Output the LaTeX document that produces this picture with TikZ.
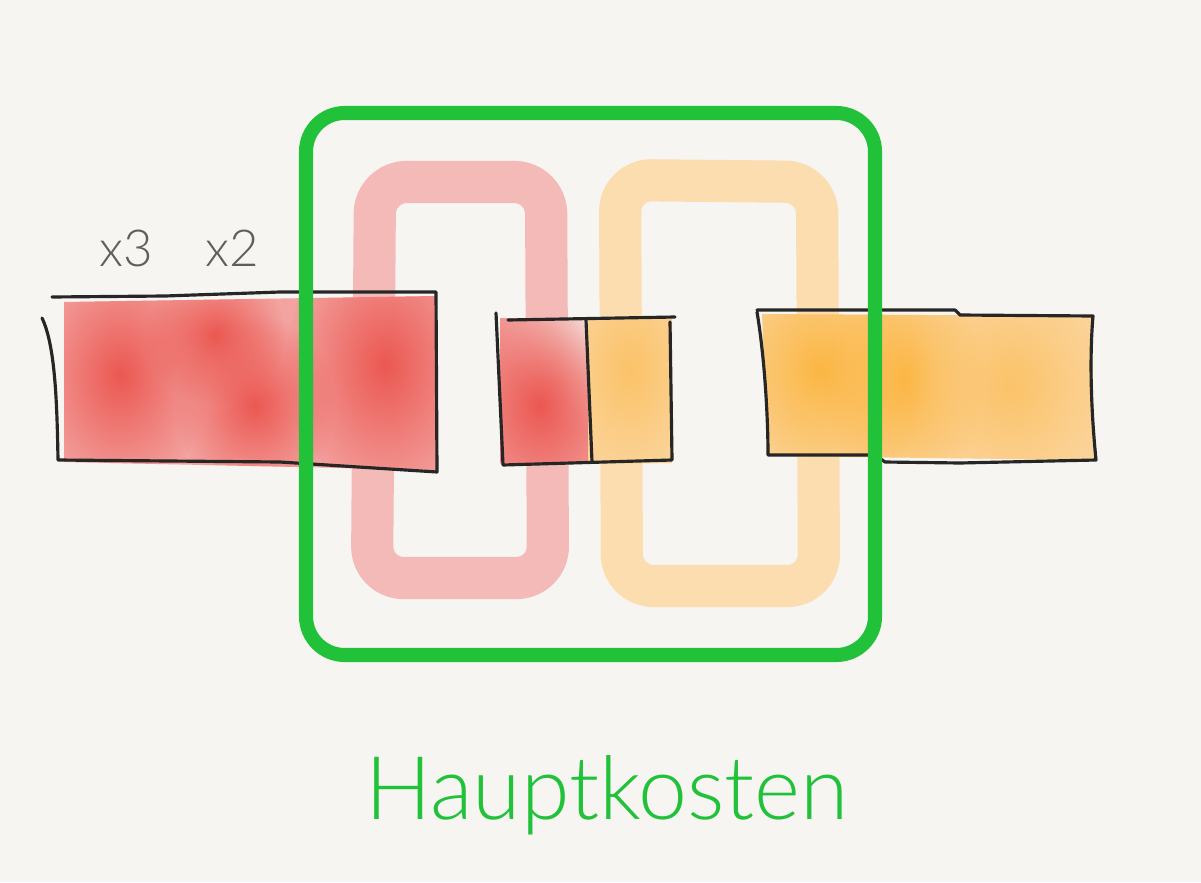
\documentclass[tikz,border=0pt]{standalone}
\usepackage{fontspec}
\setmainfont{Lato}[UprightFont={* Light}]
\usetikzlibrary{fadings}
\definecolor{papier}{HTML}{F6F5F1}
\definecolor{rotHell}{HTML}{F3A3A0}
\definecolor{rotTief}{HTML}{EC5852}
\definecolor{orangeHell}{HTML}{FCD6A0}
\definecolor{orangeTief}{HTML}{FBB744}
\definecolor{schleifeRot}{HTML}{F4BAB8}
\definecolor{schleifeOrange}{HTML}{FCDDB0}
\definecolor{kostenGruen}{HTML}{22C13A}
\definecolor{grauSchrift}{HTML}{5E5E5E}
\tikzfading[name=klecksrand, inner color=transparent!0, outer color=transparent!100]
\tikzset{
  skizze/.style={line width=0.9pt, line cap=round, line join=round, draw=black!85},
  schleife/.style={line width=12pt, rounded corners=9pt, line cap=round},
  rahmen/.style={line width=4pt, draw=kostenGruen, rounded corners=11pt},
  faktor/.style={text=grauSchrift, font=\fontsize{14.5}{14.5}\selectfont},
  klecks/.style={fill=#1, path fading=klecksrand}
}
\begin{document}
\begin{tikzpicture}[x=0.01cm, y=-0.01cm]
    % Hintergrund
    \fill[papier] (0,0) rectangle (1201,882);
    \useasboundingbox (0,0) rectangle (1201,882);

    % Schleifen hinter den Kästen
    \draw[schleife, draw=schleifeRot] (375,182) -- (546,182) -- (548,578) -- (372,578) -- cycle;
    \draw[schleife, draw=schleifeOrange] (620,180) -- (817,182) -- (819,586) -- (622,586) -- cycle;

    % linker Block, rot
    \begin{scope}
        \clip (64,302) -- (436,296) -- (436,470) -- (64,462) -- cycle;
        \fill[rotHell] (60,290) rectangle (440,475);
        \fill[klecks=rotTief] (120,375) ellipse [x radius=90, y radius=120];
        \fill[klecks=rotTief] (215,335) ellipse [x radius=70, y radius=70];
        \fill[klecks=rotTief] (255,405) ellipse [x radius=80, y radius=90];
        \fill[klecks=rotTief] (385,365) ellipse [x radius=100, y radius=140];
    \end{scope}
    \draw[skizze] (42,318) .. controls (55,345) and (57,400) .. (58,460) -- (280,462) -- (437,472) -- (436,292) -- (280,292) -- (165,296) -- (52,297);

    % mittlerer Block, halb rot, halb orange
    \begin{scope}
        \clip (500,318) rectangle (588,463);
        \fill[rotHell] (500,318) rectangle (588,463);
        \fill[klecks=papier] (590,320) ellipse [x radius=90, y radius=110];
        \fill[klecks=rotTief] (540,405) ellipse [x radius=90, y radius=120];
    \end{scope}
    \begin{scope}
        \clip (588,318) rectangle (672,463);
        \fill[orangeHell] (588,318) rectangle (672,463);
        \fill[klecks=orangeTief!60!orangeHell] (630,370) ellipse [x radius=80, y radius=120];
    \end{scope}
    \draw[skizze] (496,313) -- (503,465) -- (672,460) -- (670,322);
    \draw[skizze] (508,320) -- (675,317);
    \draw[skizze] (586,320) -- (592,462);

    % rechter Block, orange
    \begin{scope}
        \clip (762,314) -- (1092,316) -- (1094,460) -- (768,456) -- cycle;
        \fill[orangeHell] (755,305) rectangle (1100,465);
        \fill[klecks=orangeTief] (820,370) ellipse [x radius=110, y radius=130];
        \fill[klecks=orangeTief] (905,380) ellipse [x radius=80, y radius=120];
        \fill[klecks=orangeTief!60!orangeHell] (1010,385) ellipse [x radius=110, y radius=120];
    \end{scope}
    \draw[skizze] (757,312) .. controls (765,360) and (768,420) .. (768,455) -- (875,455) -- (885,462) -- (960,463) -- (1096,460) .. controls (1090,400) and (1090,350) .. (1093,316) -- (960,315) -- (955,310) -- (757,310);

    % Faktoren
    \node[faktor] (malDrei) at (126,248) {x3};
    \node[faktor] (malZwei) at (232,248) {x2};

    % grüner Rahmen
    \draw[rahmen] (306,113) rectangle (875,655);
    \node[text=kostenGruen, font=\fontsize{25}{25}\selectfont, anchor=base] (hauptkosten) at (607,819) {Hauptkosten};
\end{tikzpicture}
\end{document}
